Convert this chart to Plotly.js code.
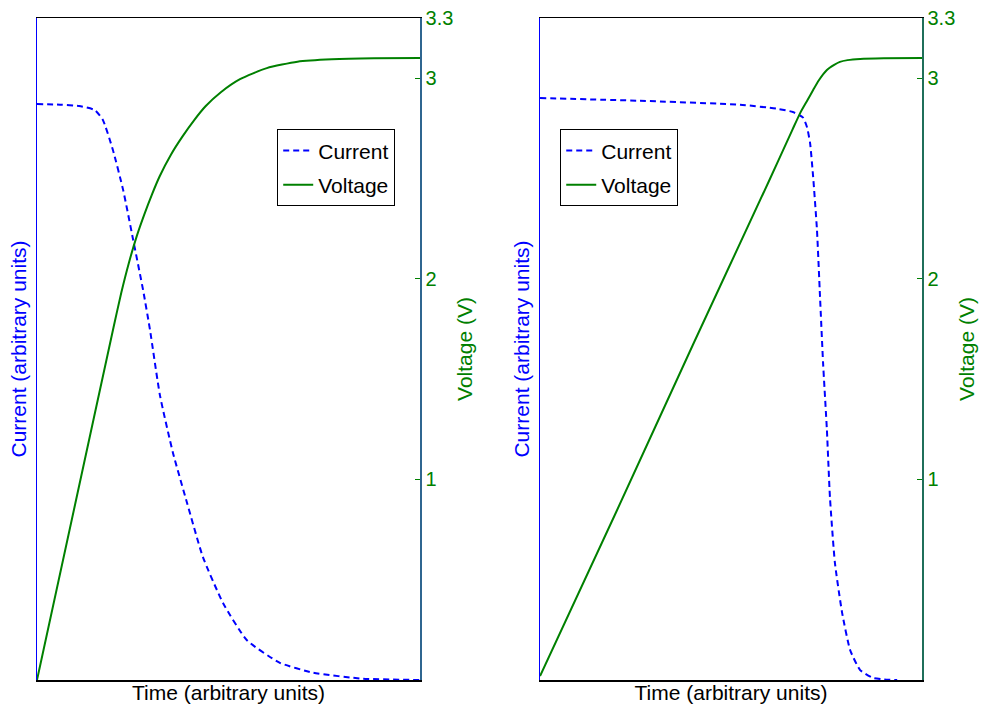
<!DOCTYPE html>
<html>
<head>
<meta charset="utf-8">
<script src="https://cdn.plot.ly/plotly-3.0.1.min.js"></script>
<style>
  html, body { margin: 0; padding: 0; background: #ffffff; }
  #chart { width: 981px; height: 711px; }
</style>
</head>
<body>
<div id="chart"></div>
<script>
// Left panel: gradual current roll-off
const timeLeftV = [0, 10, 20, 22, 24, 26, 28, 30, 32, 35, 38, 41, 44, 48, 53, 60, 68, 77, 88, 100];
const voltageLeft = [0, 0.88, 1.76, 1.93, 2.08, 2.21, 2.32, 2.42, 2.51, 2.62, 2.71, 2.79, 2.86, 2.93, 2.995, 3.05, 3.082, 3.094, 3.099, 3.100];
const timeLeftI = [0, 6, 11, 15.1, 17.2, 19.8, 22.5, 25.1, 27.7, 29.5, 32.1, 35.5, 39.2, 43.3, 48.6, 54.8, 63.4, 72.1, 85.1, 100];
const currentLeft = [0.870, 0.869, 0.867, 0.861, 0.846, 0.801, 0.740, 0.665, 0.589, 0.529, 0.430, 0.343, 0.267, 0.186, 0.116, 0.060, 0.026, 0.011, 0.002, 0.000];

// Right panel: constant current, then sharp cut-off
const timeRightV = [0, 20, 40, 60, 66, 68.1, 70, 71.5, 73, 75.1, 77, 78.5, 80.5, 83.8, 90, 100];
const voltageRight = [0.02, 0.84, 1.67, 2.49, 2.74, 2.826, 2.89, 2.941, 2.99, 3.041, 3.066, 3.081, 3.09, 3.096, 3.099, 3.10];
const timeRightI = [0, 26.2, 52.4, 62, 66.2, 68.8, 69.9, 70.7, 71.5, 72.5, 73.3, 74.1, 75.1, 75.9, 77.2, 79.1, 81.2, 83.8, 87.2, 90, 93.5];
const currentRight = [0.879, 0.875, 0.869, 0.863, 0.858, 0.850, 0.835, 0.811, 0.760, 0.680, 0.579, 0.479, 0.378, 0.276, 0.177, 0.101, 0.045, 0.015, 0.003, 0.001, 0.000];

const voltageTicks = [1, 2, 3, 3.3];
const voltageTickText = ['1', '2', '3', '3.3'];

const BLUE = '#0000ff';
const GREEN = '#008000';
const FONT = 'Liberation Sans, Arial, sans-serif';

function currentTrace(x, y, xa, ya, legend) {
  return {
    x: x, y: y, xaxis: xa, yaxis: ya, name: 'Current', legend: legend,
    legendgroup: 'i', type: 'scatter', mode: 'lines',
    line: { color: BLUE, width: 2, dash: '6px,4px', shape: 'spline', smoothing: 0.5 }
  };
}
function voltageTrace(x, y, xa, ya, legend) {
  return {
    x: x, y: y, xaxis: xa, yaxis: ya, name: 'Voltage', legend: legend,
    legendgroup: 'v', type: 'scatter', mode: 'lines',
    line: { color: GREEN, width: 2, shape: 'spline', smoothing: 0.6 }
  };
}

const data = [
  currentTrace(timeLeftI, currentLeft, 'x', 'y', 'legend'),
  voltageTrace(timeLeftV, voltageLeft, 'x', 'y2', 'legend'),
  currentTrace(timeRightI, currentRight, 'x2', 'y3', 'legend2'),
  voltageTrace(timeRightV, voltageRight, 'x2', 'y4', 'legend2')
];

function timeAxis(domain, anchor) {
  return {
    domain: domain, anchor: anchor, range: [0, 100],
    showline: true, linecolor: '#000000', linewidth: 1.5, mirror: true,
    showgrid: false, zeroline: false, ticks: '', showticklabels: false,
    title: { text: 'Time (arbitrary units)', font: { family: FONT, size: 21, color: '#000000' }, standoff: 5 }
  };
}
function currentAxis(anchor) {
  return {
    anchor: anchor, range: [0, 1], domain: [0, 1],
    showline: true, linecolor: BLUE, linewidth: 1.5,
    showgrid: false, zeroline: false, ticks: '', showticklabels: false,
    title: { text: 'Current (arbitrary units)', font: { family: FONT, size: 21, color: BLUE }, standoff: 3 }
  };
}
function voltageAxis(anchor, overlay, lineColor) {
  return {
    anchor: anchor, overlaying: overlay, side: 'right', range: [0, 3.3],
    showline: true, linecolor: lineColor, linewidth: 1.5,
    showgrid: false, zeroline: false,
    tickmode: 'array', tickvals: voltageTicks, ticktext: voltageTickText,
    ticks: 'inside', ticklen: 5, tickcolor: GREEN, tickwidth: 1,
    tickfont: { family: FONT, size: 20, color: GREEN },
    title: { text: 'Voltage (V)', font: { family: FONT, size: 21, color: GREEN }, standoff: 5 }
  };
}

function legendBox(xPos) {
  return {
    x: xPos, y: 0.832, xanchor: 'left', yanchor: 'top', xref: 'paper', yref: 'paper',
    bgcolor: '#ffffff', bordercolor: '#000000', borderwidth: 1.2,
    font: { family: FONT, size: 21, color: '#000000' },
    traceorder: 'grouped', tracegroupgap: 4
  };
}

const layout = {
  width: 981, height: 711,
  margin: { l: 37, r: 59, t: 18, b: 31, pad: 0 },
  paper_bgcolor: '#ffffff', plot_bgcolor: '#ffffff',
  font: { family: FONT, size: 20 },
  showlegend: true,
  xaxis: timeAxis([0, 0.4328], 'y'),
  xaxis2: timeAxis([0.5684, 1], 'y3'),
  yaxis: currentAxis('x'),
  yaxis2: voltageAxis('x', 'y', '#2f6690'),
  yaxis3: currentAxis('x2'),
  yaxis4: voltageAxis('x2', 'y3', '#1f6f5a'),
  legend: legendBox(0.2712),
  legend2: legendBox(0.591)
};

Plotly.newPlot('chart', data, layout, { staticPlot: true, displayModeBar: false });
</script>
</body>
</html>
